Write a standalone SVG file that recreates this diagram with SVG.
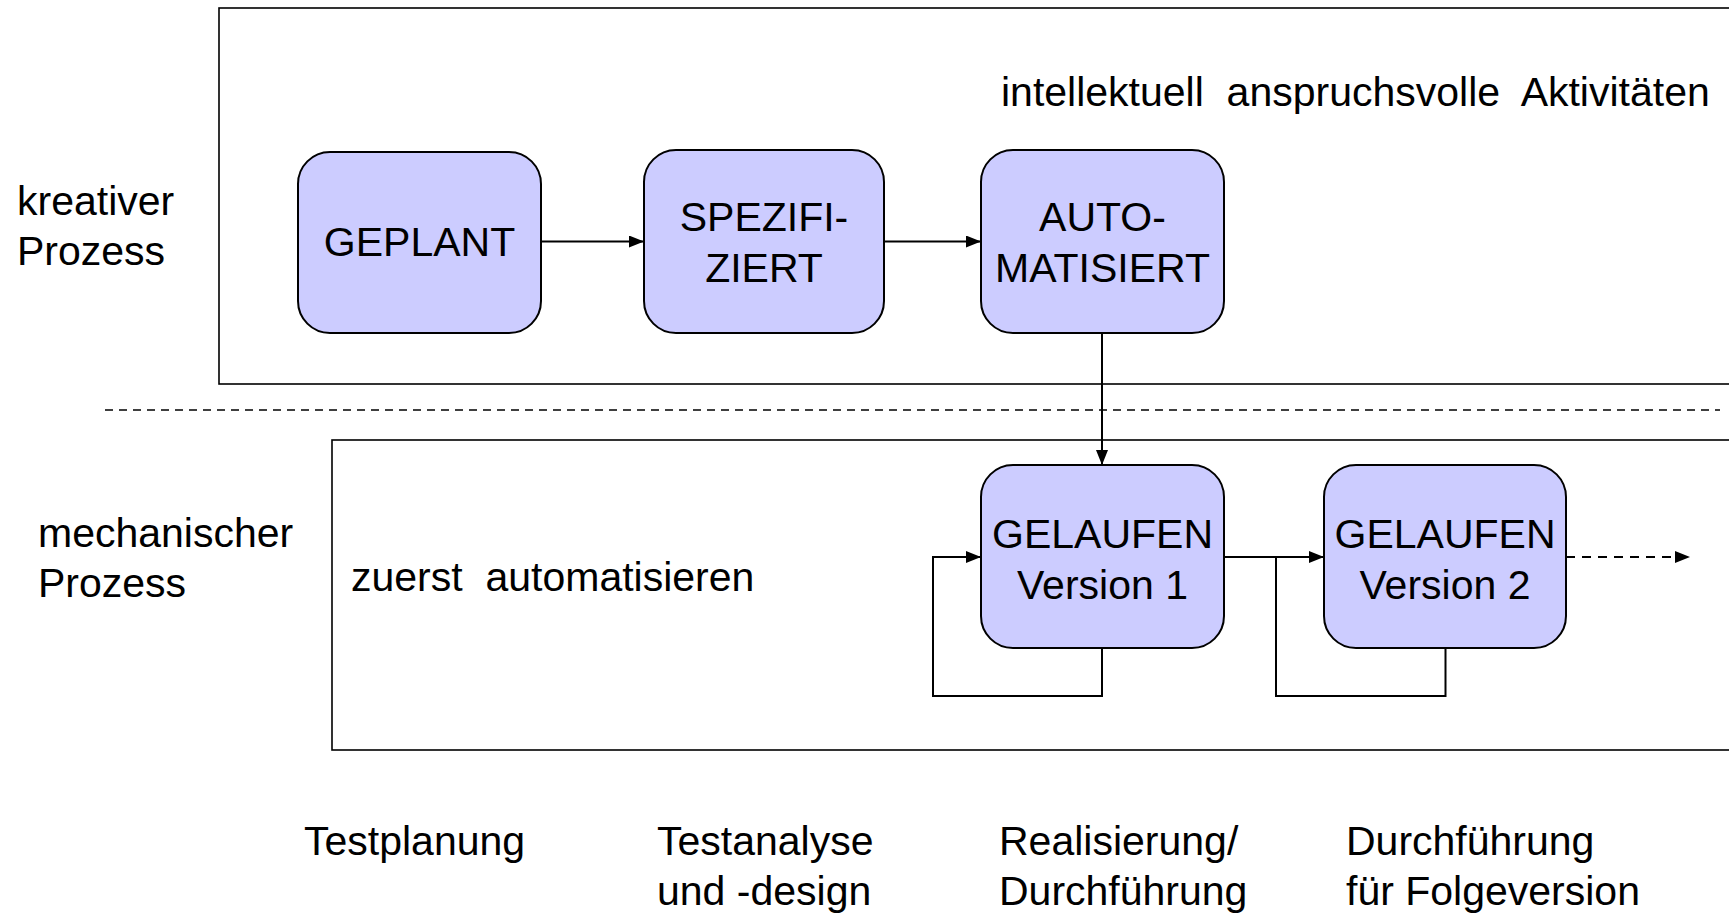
<svg xmlns="http://www.w3.org/2000/svg" width="1729" height="913" viewBox="0 0 1729 913">
  <defs>
    <style>
      text { font-family: "Liberation Sans", Arial, sans-serif; font-size: 41px; fill: #000; }
      .c { text-anchor: middle; }
      .frame { fill: none; stroke: #000; stroke-width: 1.6; }
      .node { fill: #CCCCFF; stroke: #000; stroke-width: 2; }
      .edge { fill: none; stroke: #000; stroke-width: 2; }
      .dash { fill: none; stroke: #000; stroke-width: 2; stroke-dasharray: 9 7; }
      .sep { fill: none; stroke: #000; stroke-width: 1.4; stroke-dasharray: 8 6; }
    </style>
    <marker id="arrow" viewBox="0 0 15 12" refX="15" refY="6" markerWidth="15" markerHeight="12" markerUnits="userSpaceOnUse" orient="auto">
      <path d="M0,0 L15,6 L0,12 Z" fill="#000"/>
    </marker>
  </defs>
  <rect width="1729" height="913" fill="#fff"/>

  <!-- process areas -->
  <g id="frames">
    <rect class="frame" x="219" y="8" width="1520" height="376"/>
    <rect class="frame" x="332" y="440" width="1410" height="310"/>
    <line class="sep" x1="105" y1="410" x2="1720" y2="410"/>
  </g>

  <!-- side and area labels -->
  <g id="labels">
    <text x="17" y="215">kreativer</text>
    <text x="17" y="265">Prozess</text>
    <text x="38" y="547">mechanischer</text>
    <text x="38" y="597">Prozess</text>
    <text x="1001" y="106" xml:space="preserve">intellektuell  anspruchsvolle  Aktivitäten</text>
    <text x="351" y="591" xml:space="preserve">zuerst  automatisieren</text>
  </g>

  <!-- connectors -->
  <g id="connectors">
    <line class="edge" x1="541" y1="241.5" x2="644" y2="241.5" marker-end="url(#arrow)"/>
    <line class="edge" x1="884" y1="241.5" x2="981" y2="241.5" marker-end="url(#arrow)"/>
    <line class="edge" x1="1102" y1="333" x2="1102" y2="465" marker-end="url(#arrow)"/>
    <line class="edge" x1="1224" y1="557" x2="1324" y2="557" marker-end="url(#arrow)"/>
    <polyline class="edge" points="1102,648 1102,696 933,696 933,557 981,557" marker-end="url(#arrow)"/>
    <polyline class="edge" points="1445.5,648 1445.5,696 1276,696 1276,557"/>
    <line class="dash" x1="1566" y1="557" x2="1690" y2="557" marker-end="url(#arrow)"/>
  </g>

  <!-- states -->
  <g id="geplant">
    <rect class="node" x="298" y="152" width="243" height="181" rx="32"/>
    <text class="c" x="419.5" y="256">GEPLANT</text>
  </g>
  <g id="spezifiziert">
    <rect class="node" x="644" y="150" width="240" height="183" rx="32"/>
    <text class="c" x="764" y="231">SPEZIFI-</text>
    <text class="c" x="764" y="282">ZIERT</text>
  </g>
  <g id="automatisiert">
    <rect class="node" x="981" y="150" width="243" height="183" rx="32"/>
    <text class="c" x="1102.5" y="231">AUTO-</text>
    <text class="c" x="1102.5" y="282">MATISIERT</text>
  </g>
  <g id="gelaufen1">
    <rect class="node" x="981" y="465" width="243" height="183" rx="32"/>
    <text class="c" x="1102.5" y="548">GELAUFEN</text>
    <text class="c" x="1102.5" y="599">Version 1</text>
  </g>
  <g id="gelaufen2">
    <rect class="node" x="1324" y="465" width="242" height="183" rx="32"/>
    <text class="c" x="1445" y="548">GELAUFEN</text>
    <text class="c" x="1445" y="599">Version 2</text>
  </g>

  <!-- test phases -->
  <g id="phases">
    <text x="304" y="855">Testplanung</text>
    <text x="657" y="855">Testanalyse</text>
    <text x="657" y="905">und -design</text>
    <text x="999" y="855">Realisierung/</text>
    <text x="999" y="905">Durchführung</text>
    <text x="1346" y="855">Durchführung</text>
    <text x="1346" y="905">für Folgeversion</text>
  </g>
</svg>
